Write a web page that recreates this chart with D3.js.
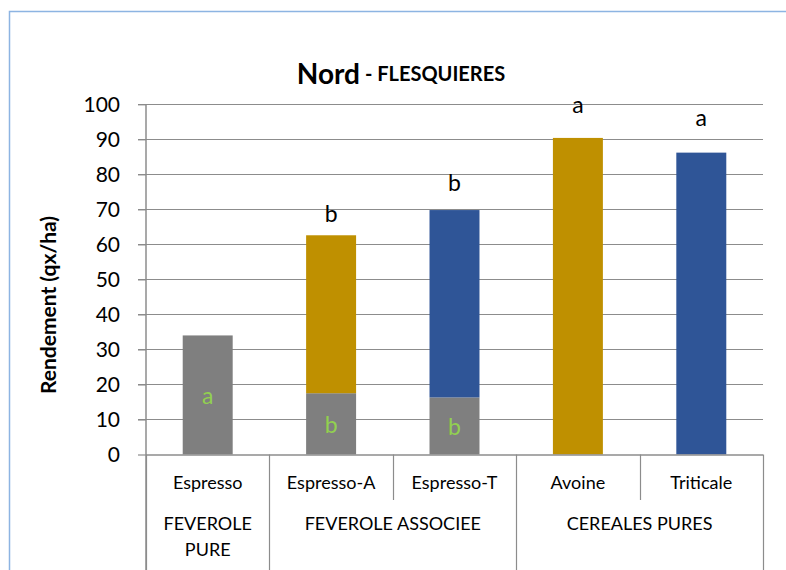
<!DOCTYPE html>
<html><head><meta charset="utf-8">
<script src="https://cdn.jsdelivr.net/npm/d3@7/dist/d3.min.js"></script>
<style>body{margin:0;background:#fff}svg{display:block;font-family:Lato,"Open Sans",sans-serif}</style>
</head><body>
<script>
const categories = ["Espresso","Espresso-A","Espresso-T","Avoine","Triticale"];
const groupLabels = [["FEVEROLE","PURE"],["FEVEROLE ASSOCIEE"],["CEREALES PURES"]];
const groupSizes = [1,2,2];
const feverole = [34.0,17.5,16.3,0,0];
const avoine = [0,45.1,0,90.4,0];
const triticale = [0,0,53.5,0,86.2];
const feveroleLetters = ["a","b","b","",""];
const topLetters = ["","b","b","a","a"];
const topLetterValues = [0,68.9,77.8,100.0,96.4];
const yTicks = [0,10,20,30,40,50,60,70,80,90,100];

const W=786,H=570;
const svg=d3.select("body").append("svg").attr("width",W).attr("height",H);
const L=146,R=763,T=104.3,B=454.5;
const x=d3.scaleBand().domain(categories).range([L,R]).paddingInner(0.595).paddingOuter(0.2975);
const y=d3.scaleLinear().domain([0,100]).range([B,T]);
const gridC="#8c8c8c";

// frame
svg.append("path").attr("d",`M9.5,570 V11.5 H786`).attr("fill","none").attr("stroke","#8db4e2").attr("stroke-width",1.5);

// gridlines
svg.append("g").selectAll("line").data(yTicks.slice(1)).join("line")
  .attr("x1",L-8).attr("x2",R).attr("y1",d=>Math.round(y(d))+0.5).attr("y2",d=>Math.round(y(d))+0.5)
  .attr("stroke",gridC).attr("stroke-width",1.2);

// y axis
const ya=svg.append("g").attr("transform",`translate(${L},0)`).call(d3.axisLeft(y).tickValues(yTicks).tickSize(8).tickPadding(18));
ya.select(".domain").remove();
ya.selectAll(".tick line").attr("stroke",gridC).attr("stroke-width",1.2);
ya.selectAll(".tick text").attr("font-size",21).attr("fill","#000").attr("font-family","Lato");
svg.append("line").attr("x1",L).attr("x2",L).attr("y1",T).attr("y2",H).attr("stroke",gridC).attr("stroke-width",1.5);

// bars
const stack=[["fev",feverole,"#7f7f7f"],["avo",avoine,"#bf9000"],["tri",triticale,"#2f5597"]];
const cum=categories.map(()=>0);
stack.forEach(([k,vals,col])=>{
  svg.append("g").selectAll("rect").data(categories).join("rect")
    .attr("x",d=>x(d)).attr("width",x.bandwidth())
    .attr("y",(d,i)=>y(cum[i]+vals[i])).attr("height",(d,i)=>y(cum[i])-y(cum[i]+vals[i]))
    .attr("fill",col);
  vals.forEach((v,i)=>cum[i]+=v);
});

// green letters
svg.append("g").selectAll("text").data(categories).join("text")
  .attr("x",d=>x(d)+x.bandwidth()/2).attr("y",(d,i)=>y(feverole[i]/2))
  .attr("text-anchor","middle").attr("dominant-baseline","central")
  .attr("font-size",23).attr("fill","#92d050").text((d,i)=>feveroleLetters[i]);

// top letters
svg.append("g").selectAll("text").data(categories).join("text")
  .attr("x",d=>x(d)+x.bandwidth()/2).attr("y",(d,i)=>y(topLetterValues[i]))
  .attr("text-anchor","middle").attr("dominant-baseline","central")
  .attr("font-size",23).attr("fill","#000").text((d,i)=>topLetters[i]);

// category axis
const step=x.step();
svg.append("line").attr("x1",L).attr("x2",R).attr("y1",B+0.5).attr("y2",B+0.5).attr("stroke",gridC).attr("stroke-width",1.5);
svg.append("g").selectAll("text").data(categories).join("text")
  .attr("x",d=>x(d)+x.bandwidth()/2).attr("y",482).attr("text-anchor","middle").attr("dominant-baseline","central")
  .attr("font-size",18).attr("fill","#000").text(d=>d);
// separators
let idx=0;
const groupStarts=[];
groupSizes.forEach(s=>{groupStarts.push(idx); idx+=s;});
categories.forEach((c,i)=>{
  const xx=Math.round(L+i*step)+0.5;
  const isGroup=groupStarts.includes(i);
  svg.append("line").attr("x1",xx).attr("x2",xx).attr("y1",B).attr("y2",isGroup?H:500).attr("stroke",gridC).attr("stroke-width",1.2);
});
svg.append("line").attr("x1",R+0.5).attr("x2",R+0.5).attr("y1",B).attr("y2",H).attr("stroke",gridC).attr("stroke-width",1.2);
groupLabels.forEach((lines,g)=>{
  const cx=L+(groupStarts[g]+groupSizes[g]/2)*step;
  lines.forEach((t,j)=>{
    svg.append("text").attr("x",cx).attr("y",523+j*26).attr("text-anchor","middle").attr("dominant-baseline","central")
      .attr("font-size",18).attr("fill","#000").text(t);
  });
});

// title
const title=svg.append("text").attr("x",401).attr("y",73).attr("text-anchor","middle").attr("dominant-baseline","central").attr("font-weight","bold");
title.append("tspan").attr("font-size",28).text("Nord");
title.append("tspan").attr("font-size",20).text(" - FLESQUIERES");

// y label
svg.append("text").attr("transform","translate(47,305) rotate(-90)").attr("text-anchor","middle").attr("dominant-baseline","central")
  .attr("font-weight","bold").attr("font-size",21).text("Rendement (qx/ha)");
</script>
</body></html>
